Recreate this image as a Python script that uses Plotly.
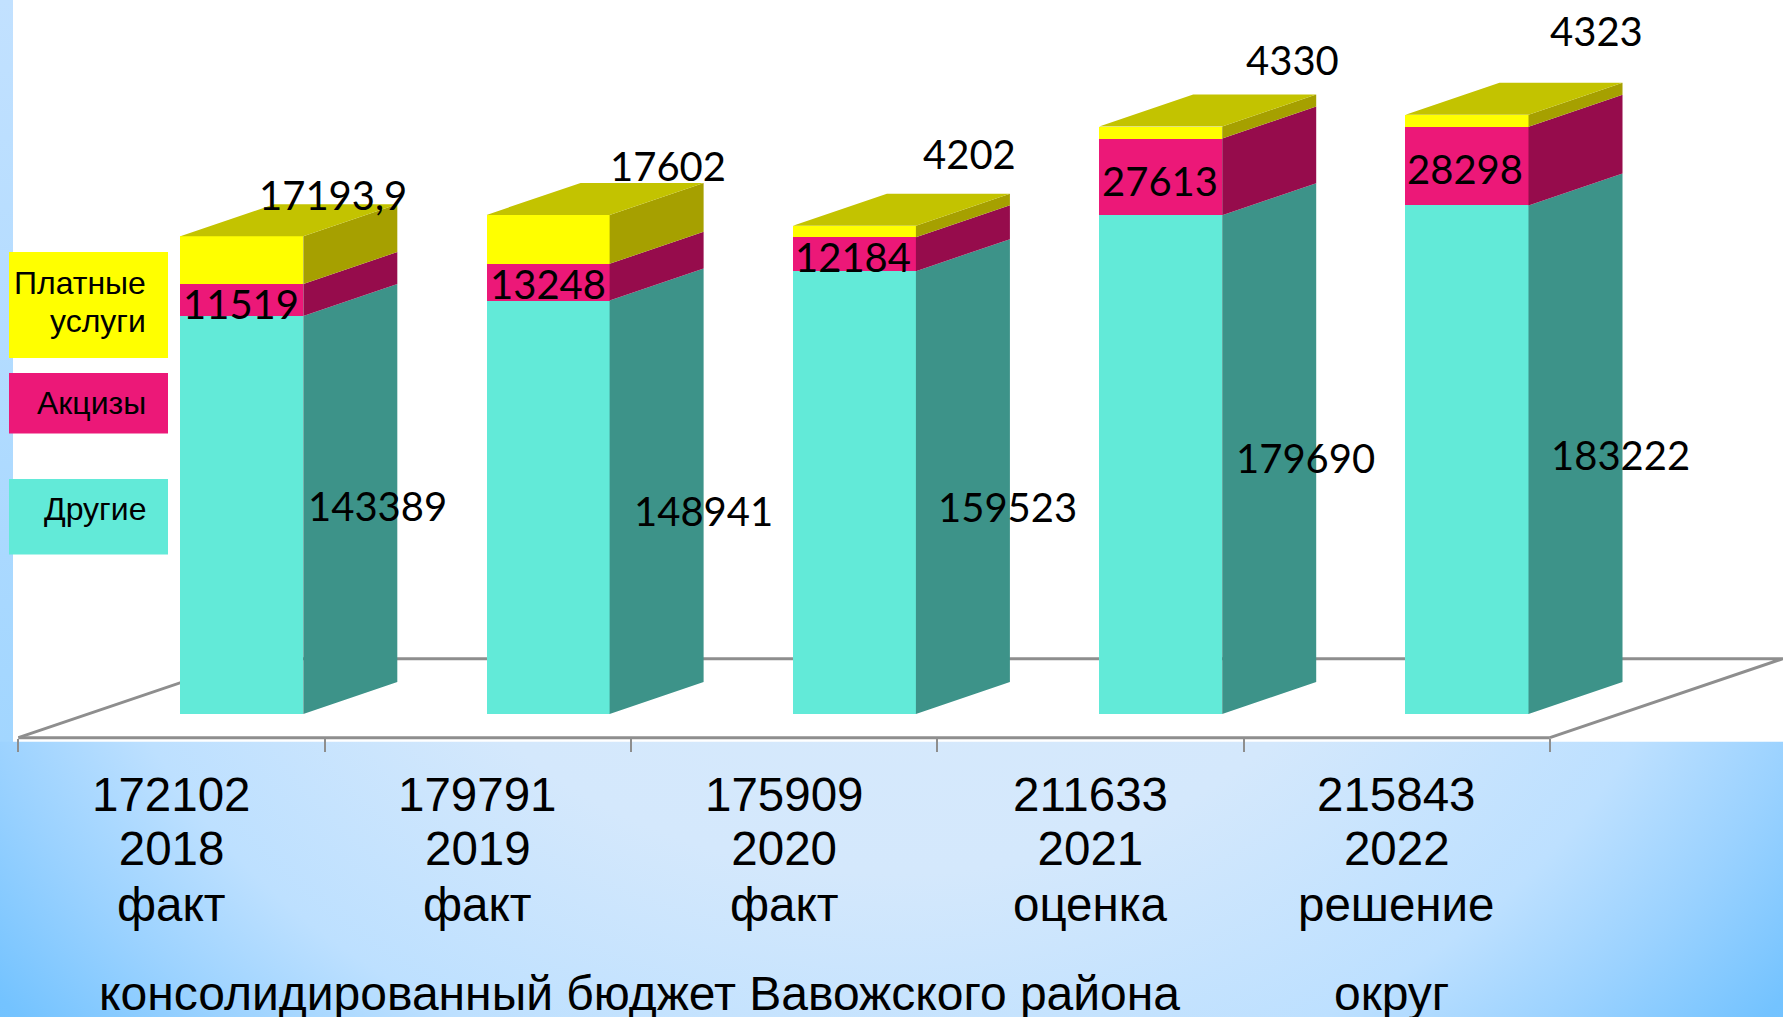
import base64
import plotly.graph_objects as go

# ---------- data ----------
years = ["2018", "2019", "2020", "2021", "2022"]
totals = ["172102", "179791", "175909", "211633", "215843"]
statuses = ["факт", "факт", "факт", "оценка", "решение"]
other = [143389, 148941, 159523, 179690, 183222]
excise = [11519, 13248, 12184, 27613, 28298]
paid = [17193.9, 17602, 4202, 4330, 4323]
paid_labels = ["17193,9", "17602", "4202", "4330", "4323"]

# ---------- scale (page pixels <-> data) ----------
W, H = 1783, 1017
CAT_PX, X0_PX = 306.3, 18.4
VAL_PX, Y0_PX = 0.002776, 714.0
AXIS_PX, PANEL_PX = 737.7, 741.7


def xd(px):
    return (px - X0_PX) / CAT_PX


def yd(px):
    return (Y0_PX - px) / VAL_PX


def yp(px):
    return 1 - px / H


BAR_OFFSET = xd(241.8)
BAR_W = 0.4016
DEPTH_X = 94 / CAT_PX
DEPTH_Y = 32 / VAL_PX
FLOOR_DX = 233 / CAT_PX

bar_x = [i + BAR_OFFSET for i in range(len(years))]

FRONT = {"other": "#62EAD8", "excise": "#EC1878", "paid": "#FFFF00"}
SIDE = {"other": "#3D9389", "excise": "#960C4C", "paid": "#A6A000"}
TOP = "#C3C300"
GRID = "#8E8E8E"

# ---------- background ----------
svg = f"""<svg xmlns='http://www.w3.org/2000/svg' width='{W}' height='{H}'>
<defs>
<radialGradient id='g' cx='0.5' cy='0.45' r='0.65' gradientTransform='translate(0.5 0.45) scale(1 1.4) translate(-0.5 -0.45)'>
<stop offset='0' stop-color='#D8EAFC'/><stop offset='0.45' stop-color='#D4E8FC'/>
<stop offset='0.71' stop-color='#BDE0FF'/><stop offset='0.835' stop-color='#9BD2FF'/>
<stop offset='0.965' stop-color='#74C3FF'/><stop offset='1' stop-color='#72C2FF'/>
</radialGradient>
<linearGradient id='s' x1='0' y1='0' x2='0' y2='1'>
<stop offset='0' stop-color='#C2E1FF'/><stop offset='1' stop-color='#A2D6FF'/>
</linearGradient>
</defs>
<rect width='{W}' height='{H}' fill='url(#g)'/>
<rect width='13' height='{PANEL_PX}' fill='url(#s)'/>
</svg>"""
bg_uri = "data:image/svg+xml;base64," + base64.b64encode(svg.encode()).decode()

fig = go.Figure()

# ---------- front faces ----------
for name, vals, key in [("Другие", other, "other"), ("Акцизы", excise, "excise"), ("Платные услуги", paid, "paid")]:
    fig.add_trace(go.Bar(x=bar_x, y=vals, width=BAR_W, name=name, showlegend=False,
                         marker=dict(color=FRONT[key], line=dict(width=0))))

# ---------- side and top faces ----------
base = [0.0] * len(years)
for vals, key in [(other, "other"), (excise, "excise"), (paid, "paid")]:
    xs, ys = [], []
    for i, v in enumerate(vals):
        r = bar_x[i] + BAR_W / 2
        lo, hi = base[i], base[i] + v
        xs += [r, r + DEPTH_X, r + DEPTH_X, r, r, None]
        ys += [lo, lo + DEPTH_Y, hi + DEPTH_Y, hi, lo, None]
        base[i] = hi
    fig.add_trace(go.Scatter(x=xs, y=ys, mode="lines", fill="toself", fillcolor=SIDE[key],
                             line=dict(width=0), hoverinfo="skip", showlegend=False))
xs, ys = [], []
for i, t in enumerate(base):
    l, r = bar_x[i] - BAR_W / 2, bar_x[i] + BAR_W / 2
    xs += [l, r, r + DEPTH_X, l + DEPTH_X, l, None]
    ys += [t, t, t + DEPTH_Y, t + DEPTH_Y, t, None]
fig.add_trace(go.Scatter(x=xs, y=ys, mode="lines", fill="toself", fillcolor=TOP,
                         line=dict(width=0), hoverinfo="skip", showlegend=False))

# ---------- shapes: white panel, floor, axis line, legend boxes ----------
shapes = [
    dict(type="rect", xref="paper", yref="paper", x0=13 / W, x1=1, y0=yp(PANEL_PX), y1=1,
         fillcolor="white", line_width=0, layer="below"),
    dict(type="path", xref="x", yref="paper", layer="below", line=dict(color=GRID, width=3),
         path=f"M 0 {yp(AXIS_PX)} L {FLOOR_DX} {yp(658.7)} L {5 + FLOOR_DX} {yp(658.7)} L 5 {yp(AXIS_PX)}"),
    dict(type="line", xref="x", yref="paper", layer="below", line=dict(color=GRID, width=3),
         x0=0, x1=5, y0=yp(AXIS_PX), y1=yp(AXIS_PX)),
]
legend_boxes = [
    (FRONT["paid"], 252, 358),
    (FRONT["excise"], 373, 433.6),
    (FRONT["other"], 479, 554.5),
]
legend_texts = [("Платные", 283), ("услуги", 320.6), ("Акцизы", 403), ("Другие", 509)]
annotations = []
for color, top, bottom in legend_boxes:
    shapes.append(dict(type="rect", xref="paper", yref="paper", x0=9 / W, x1=168 / W,
                       y0=yp(bottom), y1=yp(top), fillcolor=color, line_width=0, layer="above"))
for text, mid in legend_texts:
    annotations.append(dict(text=text, xref="paper", yref="paper", x=147.5 / W, y=yp(mid),
                            xanchor="right", yanchor="middle", align="right", showarrow=False,
                            font=dict(family="Liberation Sans", size=32, color="black")))

# ---------- hand-placed data labels ----------
LABEL_FONT = dict(family="Lato", size=40, color="black")
paid_pos = [(332.6, 194.5), (668, 166), (969, 153.5), (1292, 60), (1596, 31)]
excise_pos = [(240.5, 303.6), (547.5, 284), (853, 257), (1160, 181), (1465, 169.4)]
other_pos = [(377.5, 506), (703, 510.5), (1007.4, 507), (1305, 458), (1620, 455)]
for texts, pos in [(paid_labels, paid_pos), ([str(v) for v in excise], excise_pos), ([str(v) for v in other], other_pos)]:
    for t, (px, py) in zip(texts, pos):
        annotations.append(dict(text=t, x=xd(px), y=yd(py), xref="x", yref="y", showarrow=False,
                                xanchor="center", yanchor="middle", font=LABEL_FONT))

# ---------- lines under the axis ----------
AXIS_FONT = dict(family="Liberation Sans", size=47.5, color="black")
for i in range(len(years)):
    annotations.append(dict(text=totals[i], x=i + 0.5, y=yp(794), xref="x", yref="paper", showarrow=False,
                            xanchor="center", yanchor="middle", font=AXIS_FONT))
    annotations.append(dict(text=statuses[i], x=i + 0.5, y=yp(904), xref="x", yref="paper", showarrow=False,
                            xanchor="center", yanchor="middle", font=AXIS_FONT))
annotations.append(dict(text="консолидированный бюджет Вавожского района", x=639.5 / W, y=yp(993),
                        xref="paper", yref="paper", showarrow=False, xanchor="center", yanchor="middle",
                        font=dict(family="Liberation Sans", size=48, color="black")))
annotations.append(dict(text="округ", x=1391 / W, y=yp(993), xref="paper", yref="paper", showarrow=False,
                        xanchor="center", yanchor="middle",
                        font=dict(family="Liberation Sans", size=48, color="black")))

fig.update_layout(
    width=W, height=H, margin=dict(l=0, r=0, t=0, b=0, pad=0),
    barmode="stack", showlegend=False,
    paper_bgcolor="white", plot_bgcolor="rgba(0,0,0,0)",
    xaxis=dict(range=[xd(0), xd(W)], domain=[0, 1], showgrid=False, zeroline=False, showline=False,
               tickmode="array", tickvals=[i + 0.5 for i in range(len(years))], ticktext=years,
               ticks="", ticklabelstandoff=79, tickfont=AXIS_FONT,
               minor=dict(tickmode="array", tickvals=list(range(len(years) + 1)), ticks="outside",
                          ticklen=13, tickwidth=1.5, tickcolor=GRID, showgrid=False)),
    yaxis=dict(range=[yd(AXIS_PX), yd(0)], domain=[1 - AXIS_PX / H, 1], visible=False),
    images=[dict(source=bg_uri, xref="paper", yref="paper", x=0, y=1, sizex=1, sizey=1,
                 sizing="stretch", layer="below", xanchor="left", yanchor="top")],
    shapes=shapes, annotations=annotations,
)

fig.write_html("out.html", config=dict(displayModeBar=False),
               post_script="document.body.style.margin='0';document.body.style.overflow='hidden';")
